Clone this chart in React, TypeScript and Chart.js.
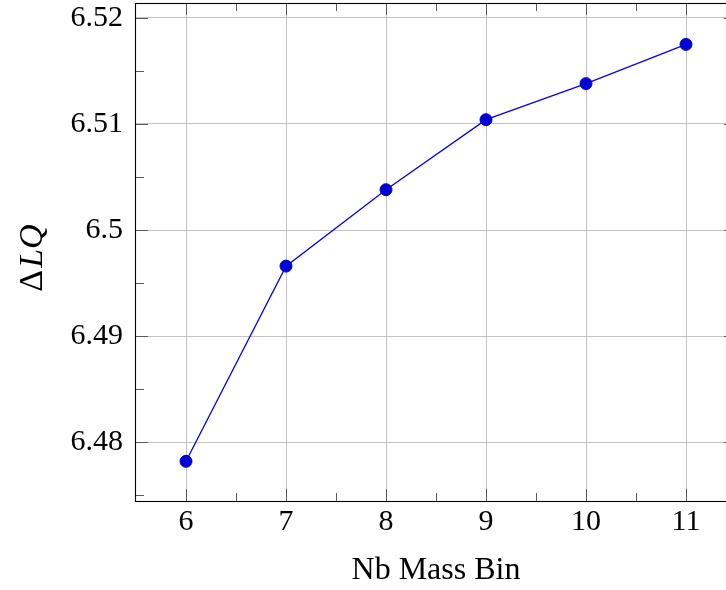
import React, { useEffect, useRef } from "react";
import { Chart, registerables } from "chart.js";

Chart.register(...registerables);

const binValues = [6, 7, 8, 9, 10, 11];
const deltaLQ = [6.4782, 6.4966, 6.5038, 6.5104, 6.5138, 6.5175];
const xTicks = [6, 7, 8, 9, 10, 11];
const xTickLabels = ["6", "7", "8", "9", "10", "11"];
const xMinorTicks = [6.5, 7.5, 8.5, 9.5, 10.5];
const yTicks = [6.48, 6.49, 6.5, 6.51, 6.52];
const yTickLabels = ["6.48", "6.49", "6.5", "6.51", "6.52"];
const yMinorTicks = [6.475, 6.485, 6.495, 6.505, 6.515];
const xRange = [5.5, 11.5];
const yRange = [6.47446, 6.5214];
const xTitle = "Nb Mass Bin";
const yTitleUpright = "Δ";
const yTitleItalic = "LQ";

const FONT = "'Liberation Serif', 'DejaVu Serif', serif";

const framePlugin = {
  id: "pgfFrame",
  beforeDatasetsDraw(chart: any) {
    const { ctx, chartArea, scales } = chart;
    const { left, right, top, bottom } = chartArea;
    const xs = scales.x;
    const ys = scales.y;
    ctx.save();
    ctx.strokeStyle = "#5a5a5a";
    ctx.lineWidth = 1;
    const majorLen = 12;
    const minorLen = 8;
    const vtick = (v: number, len: number) => {
      const px = Math.round(xs.getPixelForValue(v)) + 0.5;
      ctx.beginPath();
      ctx.moveTo(px, bottom);
      ctx.lineTo(px, bottom - len);
      ctx.moveTo(px, top);
      ctx.lineTo(px, top + len);
      ctx.stroke();
    };
    const htick = (v: number, len: number) => {
      const py = Math.round(ys.getPixelForValue(v)) + 0.5;
      ctx.beginPath();
      ctx.moveTo(left, py);
      ctx.lineTo(left + len, py);
      ctx.moveTo(right, py);
      ctx.lineTo(right - len, py);
      ctx.stroke();
    };
    xTicks.forEach((v) => vtick(v, majorLen));
    xMinorTicks.forEach((v) => vtick(v, minorLen));
    yTicks.forEach((v) => htick(v, majorLen));
    yMinorTicks.forEach((v) => htick(v, minorLen));
    ctx.strokeStyle = "#000";
    ctx.lineWidth = 1.1;
    ctx.strokeRect(left - 0.5, top + 0.5, right - left + 1, bottom - top);
    ctx.restore();
  },
  afterDraw(chart: any) {
    const { ctx, chartArea } = chart;
    ctx.save();
    ctx.fillStyle = "#000";
    ctx.textBaseline = "alphabetic";
    ctx.textAlign = "center";
    ctx.font = `32px ${FONT}`;
    ctx.fillText(xTitle, (chartArea.left + chartArea.right) / 2, 579);

    ctx.translate(42, 258);
    ctx.rotate(-Math.PI / 2);
    ctx.textAlign = "left";
    ctx.font = `34px ${FONT}`;
    const w1 = ctx.measureText(yTitleUpright).width;
    ctx.font = `italic 34px ${FONT}`;
    const w2 = ctx.measureText(yTitleItalic).width;
    const gap = 2;
    const start = -(w1 + gap + w2) / 2;
    ctx.font = `34px ${FONT}`;
    ctx.fillText(yTitleUpright, start, 0);
    ctx.font = `italic 34px ${FONT}`;
    ctx.fillText(yTitleItalic, start + w1 + gap, 0);
    ctx.restore();
  },
};

export default function App() {
  const canvasRef = useRef<HTMLCanvasElement | null>(null);

  useEffect(() => {
    const canvas = canvasRef.current;
    if (!canvas) return;
    Chart.defaults.font.family = FONT;
    Chart.defaults.color = "#000";
    const chart = new Chart(canvas, {
      type: "line",
      data: {
        datasets: [
          {
            data: binValues.map((x, i) => ({ x, y: deltaLQ[i] })),
            borderColor: "#0000ff",
            borderWidth: 1.3,
            backgroundColor: "#0000d4",
            pointBackgroundColor: "#0000d4",
            pointBorderColor: "#0000d4",
            pointBorderWidth: 1,
            pointRadius: 6,
            tension: 0,
            fill: false,
          },
        ],
      },
      options: {
        responsive: false,
        devicePixelRatio: 1,
        animation: false,
        events: [],
        layout: { padding: { left: 0, right: 24, top: 3, bottom: 0 } },
        plugins: {
          legend: { display: false },
          tooltip: { enabled: false },
          title: { display: false },
        },
        scales: {
          x: {
            type: "linear",
            min: xRange[0],
            max: xRange[1],
            afterBuildTicks: (scale: any) => {
              scale.ticks = xTicks.map((v) => ({ value: v }));
            },
            afterFit: (scale: any) => {
              scale.height = 89;
              scale.paddingLeft = 0;
              scale.paddingRight = 0;
              scale.paddingTop = 0;
              scale.paddingBottom = 0;
            },
            grid: {
              color: "#c4c4c4",
              lineWidth: 1,
              drawTicks: false,
            },
            border: { display: false },
            ticks: {
              padding: 3,
              maxRotation: 0,
              autoSkip: false,
              font: { size: 30, family: FONT },
              color: "#000",
              callback: (_v: any, i: number) => xTickLabels[i],
            },
          },
          y: {
            type: "linear",
            min: yRange[0],
            max: yRange[1],
            afterBuildTicks: (scale: any) => {
              scale.ticks = yTicks.map((v) => ({ value: v }));
            },
            afterFit: (scale: any) => {
              scale.width = 136;
              scale.paddingTop = 0;
              scale.paddingBottom = 0;
              scale.paddingLeft = 0;
              scale.paddingRight = 0;
            },
            grid: {
              color: "#c4c4c4",
              lineWidth: 1,
              drawTicks: false,
            },
            border: { display: false },
            ticks: {
              padding: 13,
              autoSkip: false,
              font: { size: 30, family: FONT },
              color: "#000",
              callback: (_v: any, i: number) => yTickLabels[i],
            },
          },
        },
      },
      plugins: [
        framePlugin,
        {
          id: "fixArea",
          afterLayout(chart: any) {
            // keep the plot frame where the reference has it
            const ca = chart.chartArea;
            if (ca.top !== 3) {
              const delta = ca.top - 3;
              ca.top = 3;
              ca.height += delta;
              chart.scales.y.top = 3;
              chart.scales.y.height = ca.bottom - 3;
              chart.scales.y.configure();
            }
          },
        },
      ],
    });
    return () => chart.destroy();
  }, []);

  return (
    <div
      style={{
        position: "fixed",
        left: 0,
        top: 0,
        width: 726,
        height: 590,
        overflow: "hidden",
        background: "#fff",
      }}
    >
      <canvas
        ref={canvasRef}
        width={760}
        height={590}
        style={{ display: "block", width: 760, height: 590 }}
      />
    </div>
  );
}
